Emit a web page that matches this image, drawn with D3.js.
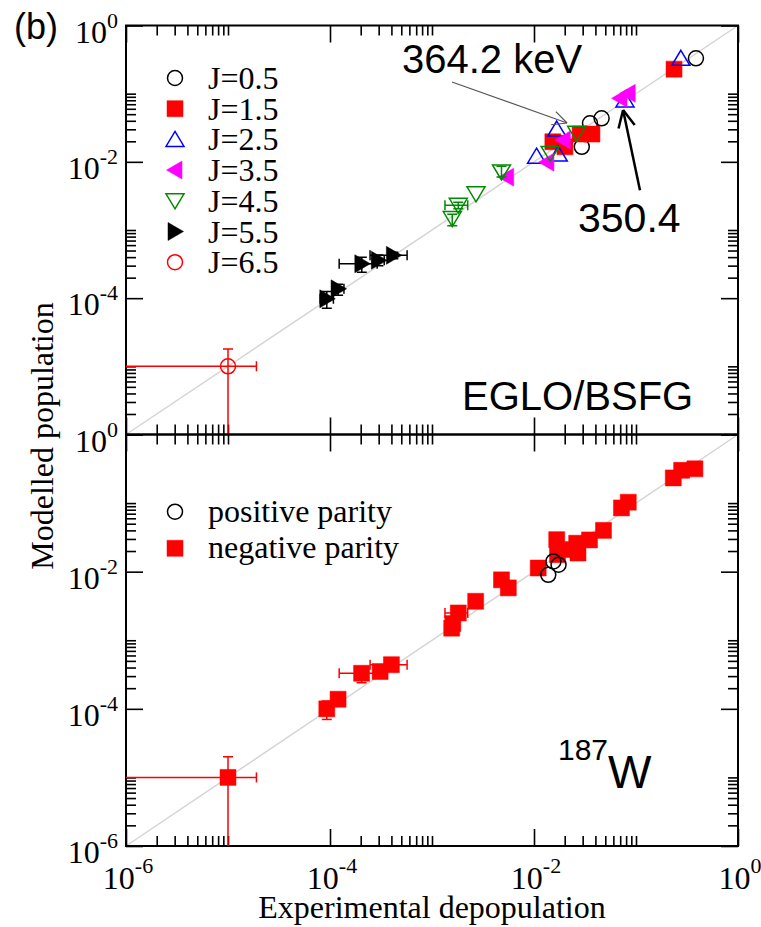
<!DOCTYPE html>
<html><head><meta charset="utf-8">
<script src="https://cdn.jsdelivr.net/npm/d3@7/dist/d3.min.js"></script>
<style>body{margin:0;background:#fff}</style>
</head><body><svg id="c" width="761" height="927"></svg>
<script>
// ---------------- data ----------------
// Top panel: grouped by spin J. Each point: x = experimental depopulation, y = modelled population
const spin05 = [{x:0.0294,y:0.0166},{x:0.0354,y:0.0367},{x:0.046,y:0.0435},{x:0.387,y:0.33}];
const spin15 = [{x:0.0153,y:0.0197},{x:0.0201,y:0.0166},{x:0.0283,y:0.0255},{x:0.037,y:0.0255},{x:0.236,y:0.229}];
const spin25 = [{x:0.0106,y:0.0121},{x:0.0167,y:0.0303},{x:0.0173,y:0.013},{x:0.078,y:0.081},{x:0.275,y:0.33}];
const spin35 = [{x:0.0054,y:0.00596},{x:0.0134,y:0.0099},{x:0.0194,y:0.0209},{x:0.0697,y:0.0855},{x:0.084,y:0.101}];
const spin45 = [{x:1.58e-3,y:1.47e-3,ye:[1.15e-3,1.7e-3]},{x:1.81e-3,y:2.3e-3,xe:[1.34e-3,2.24e-3],ye:[2.05e-3,2.55e-3]},
  {x:2.7e-3,y:3.4e-3},{x:4.8e-3,y:7.1e-3,ye:[6.0e-3,8.6e-3]},{x:0.0144,y:0.0133},{x:0.0262,y:0.0262}];
const spin55 = [{x:9.3e-5,y:9.8e-5,xe:[8.0e-5,1.08e-4],ye:[7.1e-5,1.25e-4]},{x:1.2e-4,y:1.37e-4,xe:[1.05e-4,1.37e-4],ye:[1.1e-4,1.6e-4]},
  {x:2.05e-4,y:3.2e-4,xe:[1.23e-4,2.9e-4],ye:[2.4e-4,4.0e-4]},{x:2.98e-4,y:3.6e-4,xe:[2.6e-4,3.4e-4],ye:[3.0e-4,4.3e-4]},
  {x:4.18e-4,y:4.25e-4,xe:[2.47e-4,5.7e-4],ye:[3.8e-4,4.7e-4]}];
const spin65 = [{x:1e-5,y:1e-5,xe:[1e-8,1.9e-5],ye:[1e-8,1.8e-5]}];

// Bottom panel: grouped by parity
const positiveParity = [{x:0.0138,y:0.009},{x:0.0155,y:0.0141},{x:0.0174,y:0.0126}];
const negativeParity = [
  {x:1e-5,y:1e-5,xe:[1e-8,1.9e-5],ye:[1e-8,2e-5]},
  {x:9.3e-5,y:1.0e-4,ye:[7e-5,1.3e-4]},{x:1.2e-4,y:1.38e-4,ye:[1.1e-4,1.65e-4]},
  {x:2.04e-4,y:3.3e-4,xe:[1.23e-4,2.9e-4],ye:[2.4e-4,4.0e-4]},{x:3.1e-4,y:3.5e-4,ye:[2.9e-4,4.3e-4]},
  {x:4.0e-4,y:4.4e-4,xe:[2.47e-4,5.7e-4]},
  {x:1.56e-3,y:1.5e-3},{x:1.6e-3,y:1.75e-3},{x:1.81e-3,y:2.5e-3,xe:[1.34e-3,2.24e-3]},{x:2.68e-3,y:3.7e-3},
  {x:4.8e-3,y:7.6e-3},{x:5.6e-3,y:5.8e-3},
  {x:0.011,y:0.0113},{x:0.0167,y:0.0293},{x:0.017,y:0.0177},{x:0.0194,y:0.021},{x:0.0262,y:0.026},
  {x:0.027,y:0.0187},{x:0.035,y:0.029},{x:0.048,y:0.040},{x:0.072,y:0.085},{x:0.084,y:0.103},
  {x:0.232,y:0.233},{x:0.28,y:0.30},{x:0.378,y:0.316}];

// axes
const majorExps = [-6,-4,-2,0];
const topYLabelExps = [0,-2,-4];
const botYLabelExps = [0,-2,-4,-6];
const xLabelExps = [-6,-4,-2,0];
const minorFactors = [2,3,4,5,6,7,8,9,10];

const spinLabels = ["J=0.5","J=1.5","J=2.5","J=3.5","J=4.5","J=5.5","J=6.5"];
const parityLabels = ["positive parity","negative parity"];

// ---------------- drawing ----------------
const svg = d3.select("#c");
const SERIF = "'Liberation Serif','Times New Roman',serif";
const SANS = "'Liberation Sans',Arial,sans-serif";

const L=126, R=738;
const x = d3.scaleLog().domain([1e-6,1]).range([L,R]);
const yTop = d3.scaleLog().domain([1e-6,1]).range([434.5,25.5]);
const yBot = d3.scaleLog().domain([1e-6,1]).range([846,434.5]);

const majors = majorExps.map(e=>Math.pow(10,e));
const minors = [];
[-6,-4,-2].forEach(e=>minorFactors.forEach(k=>minors.push(k*Math.pow(10,e))));

const styles = [
  {shape:"circle", color:"#000", fill:false},
  {shape:"square", color:"#ff0000", fill:true},
  {shape:"up", color:"#0000ff", fill:false},
  {shape:"left", color:"#ff00ff", fill:true},
  {shape:"down", color:"#008b00", fill:false},
  {shape:"right", color:"#000", fill:true},
  {shape:"circle", color:"#ff0000", fill:false}
];
const spinData = [spin05,spin15,spin25,spin35,spin45,spin55,spin65];

function shapePath(shape){
  switch(shape){
    case "circle": return d3.symbol(d3.symbolCircle, Math.PI*7.5*7.5)();
    case "square": return "M-8,-8H8V8H-8Z";
    case "up": return "M0,-8L9,7L-9,7Z";
    case "down": return "M0,8L9,-7L-9,-7Z";
    case "left": return "M-8.5,0L7,-9L7,9Z";
    case "right": return "M8.5,0L-7,-9L-7,9Z";
  }
}

function drawPanel(y, id){
  const g = svg.append("g");
  const [yb, yt] = y.range();
  svg.append("clipPath").attr("id","clip"+id).append("rect")
    .attr("x",L).attr("y",yt).attr("width",R-L).attr("height",yb-yt);
  // diagonal
  g.append("line").attr("x1",x(1e-6)).attr("y1",y(1e-6)).attr("x2",x(1)).attr("y2",y(1))
    .attr("stroke","#d4d4d4").attr("stroke-width",1.5);
  // ticks
  const tk = (axis, tx, ty)=>{
    const a = g.append("g").attr("transform",`translate(${tx},${ty})`).call(axis);
    a.select(".domain").remove();
    a.selectAll("text").remove();
    a.selectAll("line").attr("stroke","#000").attr("stroke-width",1.6);
  };
  [[majors,17],[minors,10]].forEach(([vals,len])=>{
    tk(d3.axisBottom(x).tickValues(vals).tickSize(-len).tickFormat(""),0,yb);
    tk(d3.axisTop(x).tickValues(vals).tickSize(-len).tickFormat(""),0,yt);
    tk(d3.axisLeft(y).tickValues(vals).tickSize(-len).tickFormat(""),L,0);
    tk(d3.axisRight(y).tickValues(vals).tickSize(-len).tickFormat(""),R,0);
  });
  g.append("rect").attr("x",L).attr("y",yt).attr("width",R-L).attr("height",yb-yt)
    .attr("fill","none").attr("stroke","#000").attr("stroke-width",2);
  return g;
}

function drawSeries(g, y, id, pts, st){
  const s = g.append("g").attr("clip-path",`url(#clip${id})`);
  const cap = 5;
  pts.forEach(p=>{
    const px=x(p.x), py=y(p.y);
    if(p.xe){
      const a=x(p.xe[0]), b=x(p.xe[1]);
      s.append("line").attr("x1",a).attr("x2",b).attr("y1",py).attr("y2",py).attr("stroke",st.color).attr("stroke-width",1.5);
      [a,b].forEach(v=>s.append("line").attr("x1",v).attr("x2",v).attr("y1",py-cap).attr("y2",py+cap).attr("stroke",st.color).attr("stroke-width",1.5));
    }
    if(p.ye){
      const a=y(p.ye[0]), b=y(p.ye[1]);
      s.append("line").attr("x1",px).attr("x2",px).attr("y1",a).attr("y2",b).attr("stroke",st.color).attr("stroke-width",1.5);
      [a,b].forEach(v=>s.append("line").attr("y1",v).attr("y2",v).attr("x1",px-cap).attr("x2",px+cap).attr("stroke",st.color).attr("stroke-width",1.5));
    }
  });
  s.selectAll("path.m").data(pts).join("path").attr("class","m")
    .attr("d",shapePath(st.shape))
    .attr("transform",d=>`translate(${x(d.x)},${y(d.y)})`)
    .attr("fill",st.fill?st.color:"none")
    .attr("stroke",st.color).attr("stroke-width",st.fill?0.5:1.5);
}

function powLabel(sel, exp, anchor, px, py, supDy){
  const t = sel.append("text").attr("x",px).attr("y",py).attr("text-anchor",anchor)
    .attr("font-family",SERIF).attr("font-size",32).attr("fill","#000");
  t.append("tspan").text("10");
  t.append("tspan").attr("dy",-supDy).attr("font-size",22).text(String(exp));
}

// Top panel
const gTop = drawPanel(yTop, "T");
spinData.forEach((pts,i)=>drawSeries(gTop, yTop, "T", pts, styles[i]));
// Bottom panel
const gBot = drawPanel(yBot, "B");
drawSeries(gBot, yBot, "B", negativeParity, styles[1]);
drawSeries(gBot, yBot, "B", positiveParity, styles[0]);

// tick labels
topYLabelExps.forEach(e=>powLabel(svg,e,"end",L-8,yTop(Math.pow(10,e))+17,15));
botYLabelExps.forEach(e=>powLabel(svg,e,"end",L-8,yBot(Math.pow(10,e))+17,15));
xLabelExps.forEach(e=>powLabel(svg,e,"middle",x(Math.pow(10,e))+2,889,16));

// axis titles
svg.append("text").attr("x",x(1e-3)).attr("y",918).attr("text-anchor","middle")
  .attr("font-family",SERIF).attr("font-size",32).text("Experimental depopulation");
svg.append("text").attr("transform",`translate(53,436) rotate(-90)`).attr("text-anchor","middle")
  .attr("font-family",SERIF).attr("font-size",32).text("Modelled population");

// legends
const legTop = svg.append("g");
spinLabels.forEach((lab,i)=>{
  const cy = 78 + i*30.7;
  legTop.append("path").attr("d",shapePath(styles[i].shape)).attr("transform",`translate(175,${cy})`)
    .attr("fill",styles[i].fill?styles[i].color:"none").attr("stroke",styles[i].color).attr("stroke-width",styles[i].fill?0.5:1.5);
  legTop.append("text").attr("x",208).attr("y",cy+11).attr("font-family",SERIF).attr("font-size",32).text(lab);
});
const legBot = svg.append("g");
[styles[0],styles[1]].forEach((st,i)=>{
  const cy = 511.7 + i*36.6;
  legBot.append("path").attr("d",shapePath(st.shape)).attr("transform",`translate(175,${cy})`)
    .attr("fill",st.fill?st.color:"none").attr("stroke",st.color).attr("stroke-width",st.fill?0.5:1.5);
  legBot.append("text").attr("x",208).attr("y",cy+10).attr("font-family",SERIF).attr("font-size",32).text(parityLabels[i]);
});

// annotations
svg.append("text").attr("x",14).attr("y",39).attr("font-family",SANS).attr("font-size",36).text("(b)");
svg.append("text").attr("x",x(5.08e-4)).attr("y",yTop(0.201)).attr("font-family",SANS).attr("font-size",40).text("364.2 keV");
svg.append("text").attr("x",x(0.027)).attr("y",yTop(9.25e-4)).attr("font-family",SANS).attr("font-size",41).text("350.4");
svg.append("text").attr("x",x(1.97e-3)).attr("y",yTop(2.31e-6)).attr("font-family",SANS).attr("font-size",40).text("EGLO/BSFG");
const w = svg.append("text").attr("x",x(0.01718)).attr("y",yBot(1.8e-5)).attr("font-family",SANS);
w.append("tspan").attr("font-size",30).text("187");
w.append("tspan").attr("font-size",46).attr("dy",28).text("W");

function arrow(x1,y1,x2,y2,color,width,head){
  const a = svg.append("g");
  a.append("line").attr("x1",x1).attr("y1",y1).attr("x2",x2).attr("y2",y2).attr("stroke",color).attr("stroke-width",width);
  const ang = Math.atan2(y2-y1,x2-x1);
  [0.45,-0.45].forEach(d=>{
    a.append("line").attr("x1",x2).attr("y1",y2)
      .attr("x2",x2-head*Math.cos(ang+d)).attr("y2",y2-head*Math.sin(ang+d))
      .attr("stroke",color).attr("stroke-width",width);
  });
}
arrow(x(1.57e-3),yTop(0.1486),x(0.0211),yTop(0.0371),"#555",1.2,16);
arrow(x(0.1094),yTop(3.84e-3),x(0.0747),yTop(0.0575),"#000",2.5,19);
</script></body></html>
